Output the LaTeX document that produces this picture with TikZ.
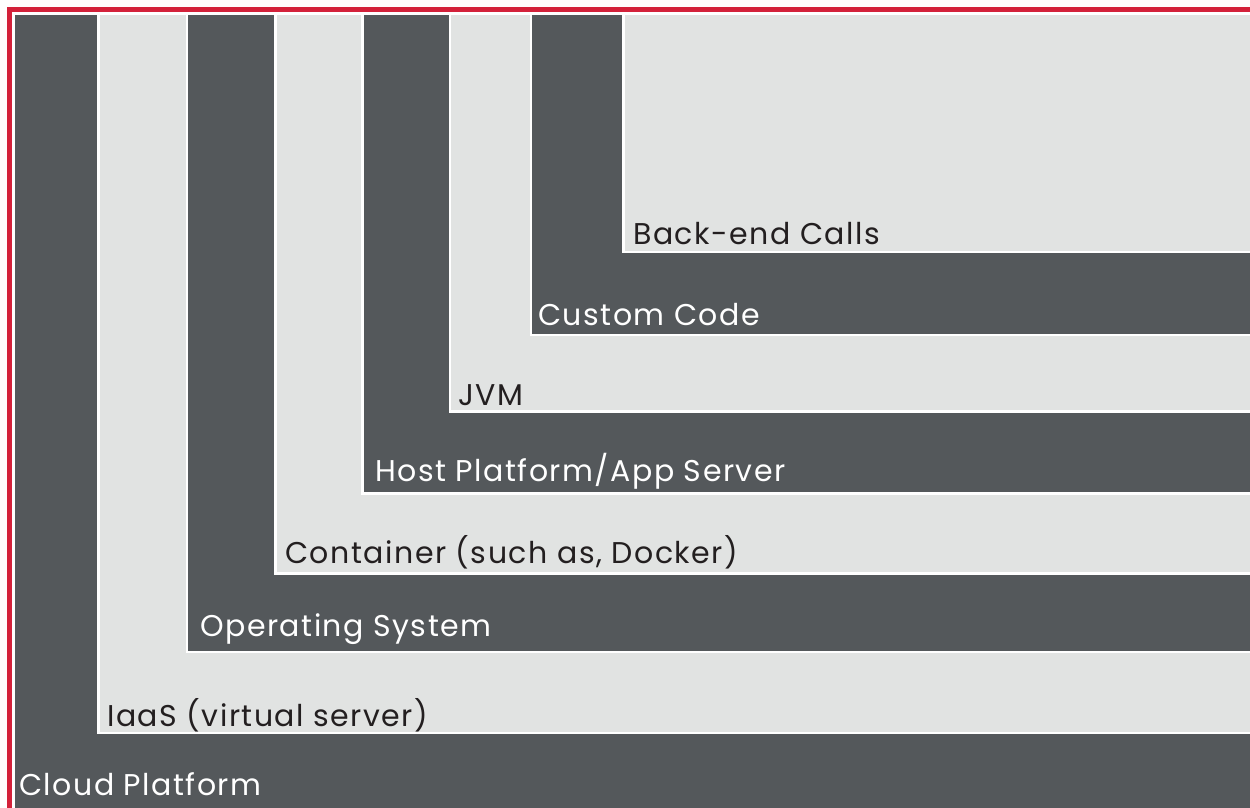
\documentclass[tikz,border=0pt]{standalone}
\usepackage{fontspec}
\setmainfont[LetterSpace=5]{Poppins}
\definecolor{layerdark}{RGB}{84,88,91}
\definecolor{layerlight}{RGB}{225,227,226}
\definecolor{framered}{RGB}{211,33,58}
\definecolor{labelink}{RGB}{35,31,32}
\tikzset{
  darklayer/.style={fill=layerdark, draw=white, line width=2.5pt},
  lightlayer/.style={fill=layerlight, draw=white, line width=2.5pt},
  lbl/.style={anchor=base west, inner sep=0pt, font=\fontsize{30}{35}\selectfont},
}
\begin{document}
\begin{tikzpicture}[x=1pt,y=1pt,yscale=-1,xscale=1]
	\useasboundingbox (0,0) rectangle (1250,808);
	\clip (0,0) rectangle (1250,808);
	\fill [white] (0,0) rectangle (1250,808);
	%Shape: Frame
	\draw [framered, line width=5pt] (9.8,830) -- (9.8,9.8) -- (1270,9.8);
	%Shape: Rectangle [Cloud Platform]
	\draw [darklayer] (14,13.5) rectangle (1270,830);
	%Shape: Rectangle [IaaS]
	\draw [lightlayer] (98.5,13.5) rectangle (1270,733);
	%Shape: Rectangle [Operating System]
	\draw [darklayer] (187,13.5) rectangle (1270,652);
	%Shape: Rectangle [Container]
	\draw [lightlayer] (275.5,13.5) rectangle (1270,573.5);
	%Shape: Rectangle [Host Platform]
	\draw [darklayer] (362.5,13.5) rectangle (1270,493.5);
	%Shape: Rectangle [JVM]
	\draw [lightlayer] (450,13.5) rectangle (1270,411.5);
	%Shape: Rectangle [Custom Code]
	\draw [darklayer] (531,13.5) rectangle (1270,335);
	%Shape: Rectangle [Back-end Calls]
	\draw [lightlayer] (623.5,13.5) rectangle (1270,252);

	% Text Node
	\node [lbl, text=white] (cloud) at (19,795) {Cloud Platform};
	% Text Node
	\node [lbl, text=labelink] (iaas) at (107,726) {IaaS (virtual server)};
	% Text Node
	\node [lbl, text=white] (os) at (200,636) {Operating System};
	% Text Node
	\node [lbl, text=labelink] (container) at (285,563) {Container (such as, Docker)};
	% Text Node
	\node [lbl, text=white] (host) at (375,481) {Host Platform/App Server};
	% Text Node
	\node [lbl, text=labelink] (jvm) at (458,405) {JVM};
	% Text Node
	\node [lbl, text=white] (custom) at (538,325) {Custom Code};
	% Text Node
	\node [lbl, text=labelink] (backend) at (633,244) {Back-end Calls};
\end{tikzpicture}
\end{document}
